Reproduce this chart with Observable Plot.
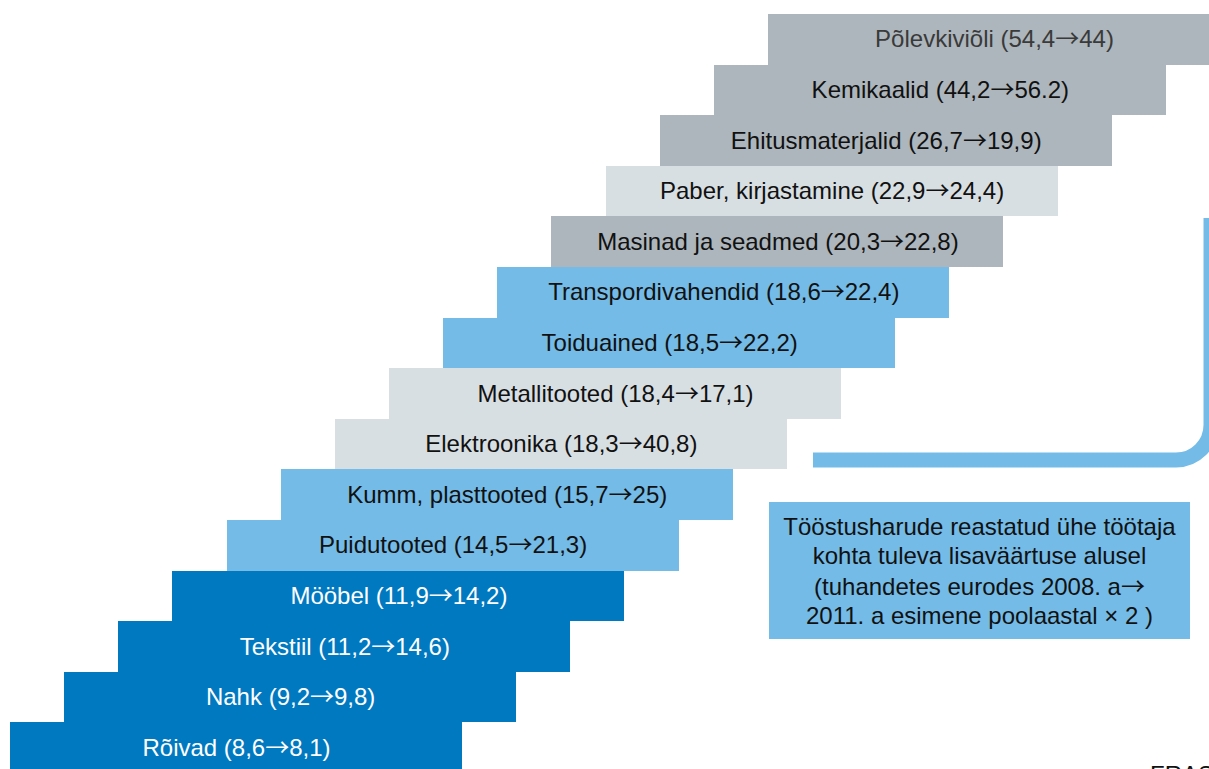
<!DOCTYPE html>
<html>
<head>
<meta charset="utf-8">
<script src="https://cdn.jsdelivr.net/npm/d3@7"></script>
<script src="https://cdn.jsdelivr.net/npm/@observablehq/plot@0.6"></script>
<style>
  html, body { margin: 0; padding: 0; background: #fff; }
  #wrap { position: relative; width: 1209px; height: 769px; overflow: hidden; font-family: "Liberation Sans", Arial, sans-serif; }
  #legend {
    position: absolute; left: 769px; top: 502px; width: 421px; height: 137px;
    background: #74bbe7; color: #111; font-size: 24px; line-height: 29px;
    text-align: center; box-sizing: border-box; padding-top: 10px; white-space: nowrap;
  }
  .arr { font-family: "Noto Sans CJK JP", sans-serif; display: inline-block; line-height: 29px; height: 29px; overflow: visible; }
  #source { position: absolute; left: 1150px; top: 761px; font-size: 24px; color: #111; }
</style>
</head>
<body>
<div id="wrap">
  <div id="chart"></div>
  <div id="legend">Tööstusharude reastatud ühe töötaja<br>kohta tuleva lisaväärtuse alusel<br>(tuhandetes eurodes 2008. a<span class="arr">→</span><br>2011. a esimene poolaastal × 2 )</div>
  <div id="source">FRAS</div>
</div>
<script>
// Categories, top to bottom
const categories = ["Põlevkiviõli", "Kemikaalid", "Ehitusmaterjalid", "Paber, kirjastamine", "Masinad ja seadmed",
  "Transpordivahendid", "Toiduained", "Metallitooted", "Elektroonika", "Kumm, plasttooted",
  "Puidutooted", "Mööbel", "Tekstiil", "Nahk", "Rõivad"];
// Value added per employee, 2008 (thousand EUR)
const value2008 = ["54,4", "44,2", "26,7", "22,9", "20,3", "18,6", "18,5", "18,4", "18,3", "15,7", "14,5", "11,9", "11,2", "9,2", "8,6"];
// Value added per employee, 2011 H1 × 2 (thousand EUR)
const value2011 = ["44", "56.2", "19,9", "24,4", "22,8", "22,4", "22,2", "17,1", "40,8", "25", "21,3", "14,2", "14,6", "9,8", "8,1"];
// Colour group of each bar
const groups = ["grey", "grey", "grey", "pale", "grey", "light", "light", "pale", "pale", "light", "light", "dark", "dark", "dark", "dark"];

const groupDomain = ["dark", "light", "pale", "grey"];
const groupColors = ["#0079c1", "#74bbe7", "#d8dfe3", "#adb6bc"];
const textColors = {dark: "#ffffff", light: "#111111", pale: "#111111", grey: "#111111"};

const n = categories.length;
const stepPx = (768 - 10) / (n - 1);
const span = 452 / stepPx; // bar length in step units

const rows = categories.map((c, i) => ({
  name: c,
  rank: n - 1 - i,
  group: groups[i],
  label: `${c} (${value2008[i]}→${value2011[i]})`,
  textColor: i === 0 ? "#3a3a3a" : textColors[groups[i]]
}));

const plot = Plot.plot({
  width: 1209,
  height: 769,
  margin: 0,
  style: {fontFamily: '"Liberation Sans", Arial, sans-serif', background: "transparent"},
  x: {domain: [0, n - 1], range: [10, 768], axis: null},
  y: {type: "band", domain: categories, range: [14, 773], padding: 0, round: false, axis: null},
  color: {type: "ordinal", domain: groupDomain, range: groupColors},
  marks: [
    Plot.barX(rows, {x1: "rank", x2: d => d.rank + span, y: "name", fill: "group", shapeRendering: "crispEdges"}),
    Plot.text(rows, {x: d => d.rank + span / 2, y: "name", text: "label", fill: "textColor",
      fontSize: 24, textAnchor: "middle", lineAnchor: "middle", className: "lbl"})
  ]
});
document.getElementById("chart").appendChild(plot);

// Render the arrow with a long thin glyph, as in the original
d3.select(plot).selectAll("g.lbl text").each(function () {
  const t = d3.select(this);
  const s = t.text();
  const parts = s.split("→");
  if (parts.length !== 2) return;
  t.text(null);
  t.append("tspan").text(parts[0]);
  t.append("tspan").attr("font-family", '"Noto Sans CJK JP", sans-serif').text("→");
  t.append("tspan").text(parts[1]);
});

// Connector bracket from the stair to the note
d3.select(plot).append("path")
  .attr("d", "M813,460 H1176 A35,35 0 0 0 1211,425 V218")
  .attr("fill", "none")
  .attr("stroke", "#74bbe7")
  .attr("stroke-width", 15);
</script>
</body>
</html>
